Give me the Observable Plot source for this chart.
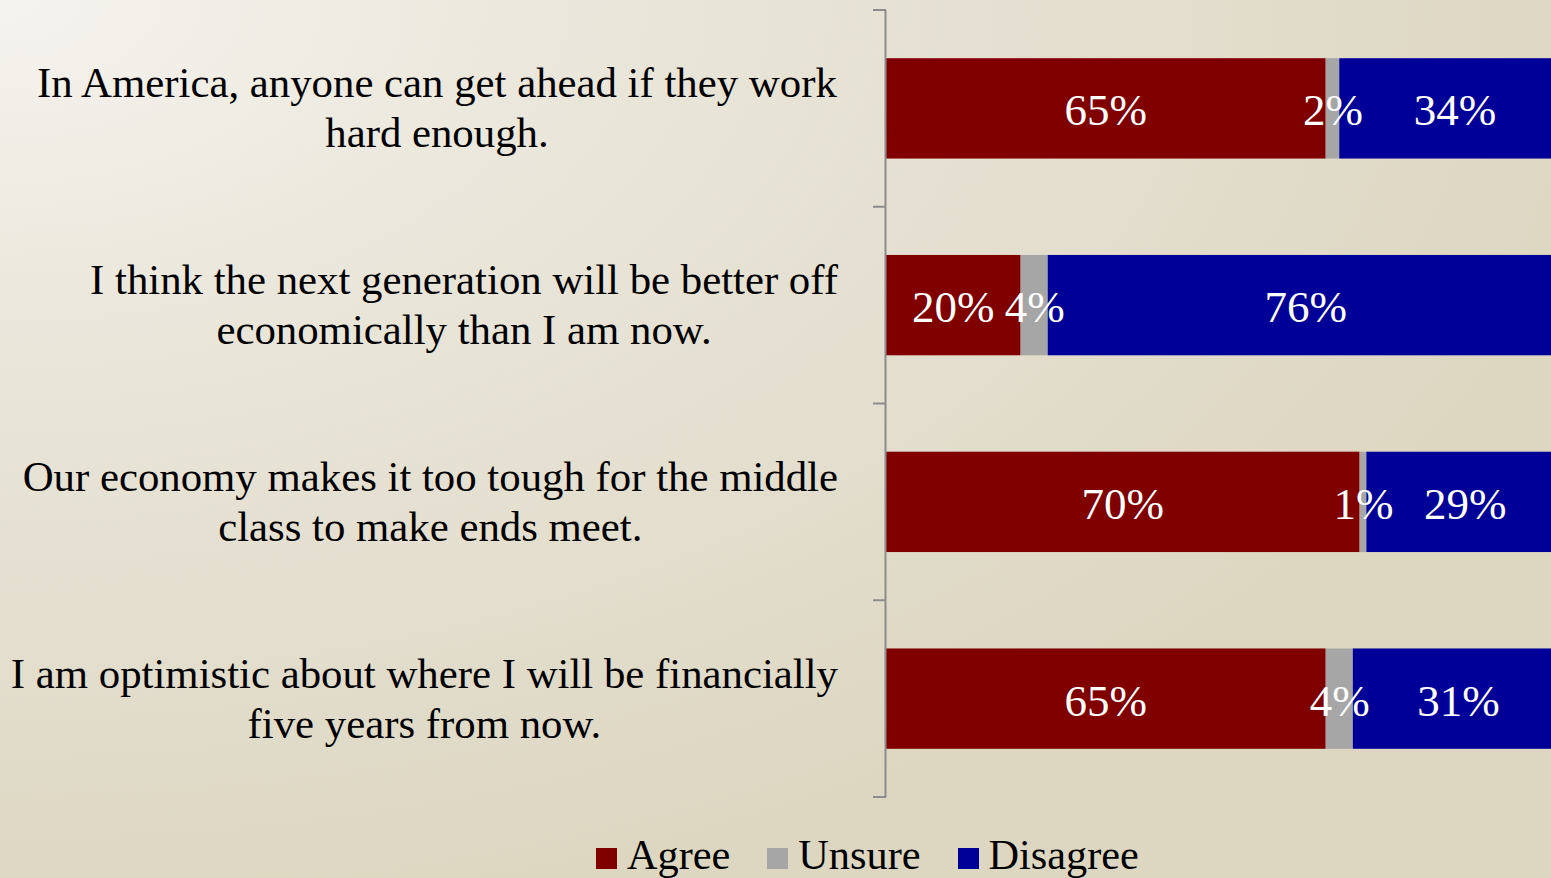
<!DOCTYPE html>
<html>
<head>
<meta charset="utf-8">
<script src="https://cdn.jsdelivr.net/npm/d3@7"></script>
<script src="https://cdn.jsdelivr.net/npm/@observablehq/plot@0.6"></script>
<style>
  html, body { margin: 0; padding: 0; width: 1551px; height: 878px; overflow: hidden; }
  body {
    background: radial-gradient(ellipse 140% 140% at 0% 0%, #f5f3ee 0%, #e9e5d9 30%, #ddd7c2 75%, #ddd7c2 100%);
    font-family: "Liberation Serif", "Times New Roman", serif;
    position: relative;
  }
  #chart { position: absolute; left: 0; top: 0; width: 1551px; height: 820px; overflow: hidden; }
  #legend { position: absolute; left: 596px; top: 834px; display: flex; align-items: center; font-size: 42.3px; line-height: 42px; color: #000; white-space: nowrap; }
  #legend .item { display: flex; align-items: center; margin-right: 37px; }
  #legend .sw { width: 21px; height: 21px; margin-right: 10px; margin-top: 7px; }
</style>
</head>
<body>
<div id="chart"></div>
<div id="legend"></div>
<script>
const questions = [
  "In America, anyone can get ahead if they work\nhard enough.",
  "I think the next generation will be better off\neconomically than I am now.",
  "Our economy makes it too tough for the middle\nclass to make ends meet.",
  "I am optimistic about where I will be financially\nfive years from now."
];
const responses = ["Agree", "Unsure", "Disagree"];
const agree = [65, 20, 70, 65];
const unsure = [2, 4, 1, 4];
const disagree = [34, 76, 29, 31];
const colors = ["#800000", "#a6a6a6", "#000099"];

const series = [agree, unsure, disagree];
const data = questions.flatMap((q, i) => responses.map((r, j) => ({q, resp: r, value: series[j][i]})));

const PAD = 0.49;
const LABEL_SIZE = 42.8;
const ctx = document.createElement("canvas").getContext("2d");
ctx.font = LABEL_SIZE + "px 'Liberation Serif'";

function axisTicks(index, scales, values, dim) {
  const g = d3.create("svg:g").attr("stroke", "#8c8c8c").attr("stroke-width", 2);
  const inner = dim.height - dim.marginTop - dim.marginBottom;
  const step = inner / questions.length;
  for (let i = 0; i <= questions.length; i++) {
    const y = dim.marginTop + i * step;
    g.append("line").attr("x1", dim.marginLeft - 12).attr("x2", dim.marginLeft + 1).attr("y1", y).attr("y2", y);
  }
  return g.node();
}

function categoryLabels(index, scales, values, dim) {
  const g = d3.create("svg:g").attr("font-family", "'Liberation Serif', 'Times New Roman', serif").attr("font-size", LABEL_SIZE).attr("fill", "#000").attr("text-anchor", "middle");
  const inner = dim.height - dim.marginTop - dim.marginBottom;
  const step = inner / questions.length;
  const bw = step * (1 - PAD);
  const right = dim.marginLeft - 47;
  questions.forEach(q => {
    const lines = q.split("\n");
    const w = Math.max(...lines.map(l => ctx.measureText(l).width));
    const cx = right - w / 2;
    const cy = scales.y(q) + bw / 2;
    const t = g.append("text");
    lines.forEach((l, k) => {
      t.append("tspan").attr("x", cx).attr("y", cy - 11 + k * 50).text(l);
    });
  });
  return g.node();
}

const plot = Plot.plot({
  width: 1575,
  height: 820,
  marginLeft: 885,
  marginRight: 12,
  marginTop: 10,
  marginBottom: 23,
  x: {domain: [0, 100], axis: null},
  y: {domain: questions, axis: null, paddingInner: PAD, paddingOuter: PAD / 2, round: false},
  color: {domain: responses, range: colors},
  style: {background: "transparent", maxWidth: "none", fontFamily: "'Liberation Serif', 'Times New Roman', serif", overflow: "visible"},
  marks: [
    Plot.barX(data, Plot.stackX({x: "value", y: "q", fill: "resp", order: responses})),
    Plot.text(data, Plot.stackX({x: "value", y: "q", z: "resp", order: responses, text: d => d.value + "%", fill: "white", fontSize: 45, dy: 2})),
    Plot.ruleX([0], {stroke: "#8c8c8c", strokeWidth: 2}),
    axisTicks,
    categoryLabels
  ]
});
document.getElementById("chart").appendChild(plot);

const legend = d3.select("#legend");
responses.forEach((r, i) => {
  const it = legend.append("div").attr("class", "item");
  it.append("div").attr("class", "sw").style("background", colors[i]);
  it.append("span").text(r);
});
</script>
</body>
</html>
